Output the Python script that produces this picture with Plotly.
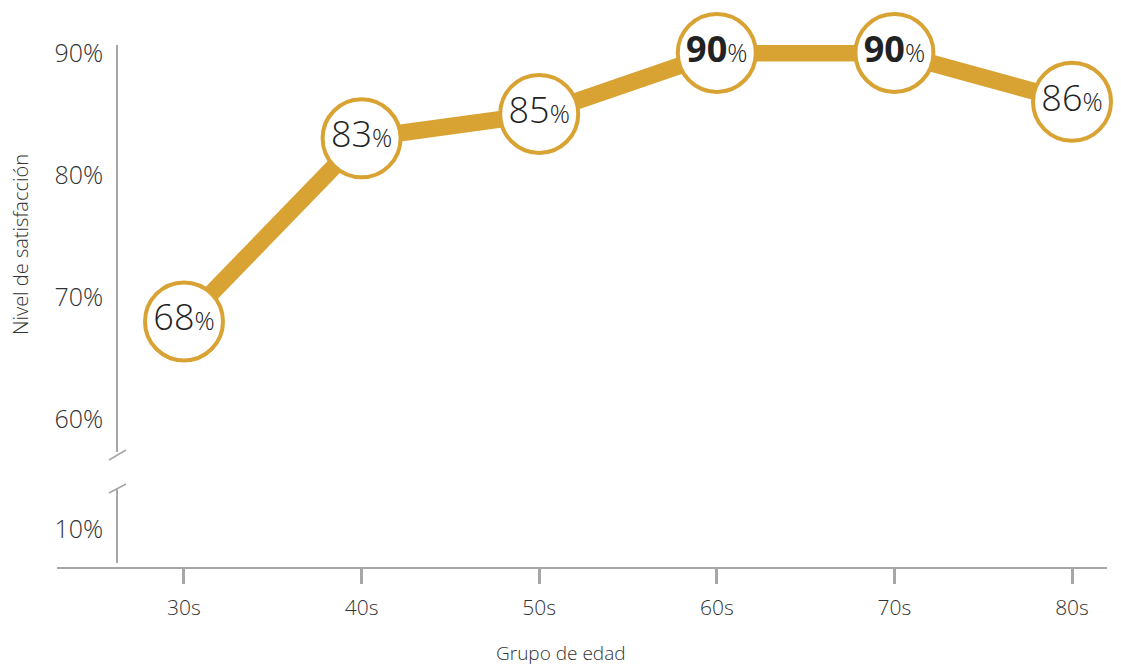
import plotly.graph_objects as go

categories = ["30s", "40s", "50s", "60s", "70s", "80s"]
values = [68, 83, 85, 90, 90, 86]
bold_flags = [False, False, False, True, True, False]
top_ticks = [60, 70, 80, 90]
bottom_ticks = [10]

GOLD = "#D9A334"
TXT = "#333333"
AXC = "#A6A6A6"
FONT = "Open Sans"

labels = []
for v, b in zip(values, bold_flags):
    num = f"<b>{v}</b>" if b else f"{v}"
    labels.append(num + "<span style='font-size:25px'>%</span>")

W, H = 1121, 665
ml, mr, mt, mb = 57, 14, 20, 97
pw, ph = W - ml - mr, H - mt - mb


def py(p):  # pixel y -> paper fraction
    return (H - mb - p) / ph


def px(p):
    return (p - ml) / pw


fig = go.Figure()
fig.add_trace(go.Scatter(
    x=categories, y=values, mode="lines+markers+text",
    line=dict(color=GOLD, width=17),
    marker=dict(size=78, color="white", line=dict(color=GOLD, width=4)),
    text=labels, textposition="middle center",
    textfont=dict(family=FONT, size=36, color="#222222", weight=300),
    hoverinfo="skip", cliponaxis=False, showlegend=False,
))
# empty trace on lower axis
fig.add_trace(go.Scatter(x=[categories[0]], y=[None], yaxis="y2", showlegend=False, hoverinfo="skip"))

ax_x = px(117)
fig.update_layout(
    width=W, height=H,
    margin=dict(l=ml, r=mr, t=mt, b=mb, autoexpand=False),
    paper_bgcolor="white", plot_bgcolor="white",
    font=dict(family=FONT, color=TXT, weight=300),
    xaxis=dict(
        type="category", range=[-0.715, 5.197], showgrid=False, zeroline=False,
        showline=True, linecolor=AXC, linewidth=1.5,
        ticks="outside", ticklen=15, tickwidth=2.5, tickcolor=AXC,
        tickfont=dict(size=21, color=TXT, weight=300), anchor="free", position=0,
        ticklabelstandoff=6, automargin=False,
    ),
    yaxis=dict(
        domain=[py(452), py(45)], range=[57.3, 90.65],
        tickvals=top_ticks, ticktext=[f"{t}%" for t in top_ticks],
        showgrid=False, zeroline=False, showline=True, linecolor=AXC, linewidth=1.5,
        ticks="", tickfont=dict(size=25, color=TXT, weight=300), anchor="free", position=ax_x,
        ticklabelstandoff=8, automargin=False,
    ),
    yaxis2=dict(
        domain=[py(563), py(489)], range=[0, 22.1],
        tickvals=bottom_ticks, ticktext=[f"{t}%" for t in bottom_ticks],
        showgrid=False, zeroline=False, showline=True, linecolor=AXC, linewidth=1.5,
        ticks="", tickfont=dict(size=25, color=TXT, weight=300), anchor="free", position=ax_x,
        ticklabelstandoff=8, automargin=False,
    ),
    annotations=[
        dict(text="Nivel de satisfacción", xref="paper", yref="paper",
             x=px(20), y=py(245), textangle=-90, showarrow=False,
             font=dict(size=20, color=TXT, weight=300), xanchor="center", yanchor="middle"),
        dict(text="Grupo de edad", xref="paper", yref="paper",
             x=px(561), y=py(653), showarrow=False,
             font=dict(size=19, color=TXT, weight=300), xanchor="center", yanchor="middle"),
    ],
    shapes=[
        dict(type="line", xref="paper", yref="paper",
             x0=px(109), y0=py(460), x1=px(126), y1=py(450),
             line=dict(color=AXC, width=1.5)),
        dict(type="line", xref="paper", yref="paper",
             x0=px(109), y0=py(493), x1=px(126), y1=py(484),
             line=dict(color=AXC, width=1.5)),
    ],
)

fig.write_html("out.html", config={"displayModeBar": False})
with open("out.html", "r", encoding="utf-8") as f:
    html = f.read()
html = html.replace("<body>", "<body style=\"margin:0;padding:0;\">", 1)
with open("out.html", "w", encoding="utf-8") as f:
    f.write(html)
